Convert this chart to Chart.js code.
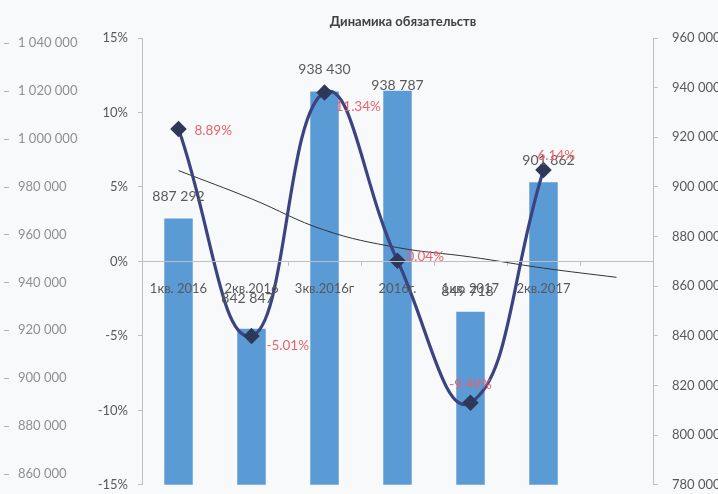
<!DOCTYPE html>
<html><head><meta charset="utf-8">
<script src="https://cdn.jsdelivr.net/npm/chart.js@4/dist/chart.umd.min.js"></script>
<style>html,body{margin:0;padding:0;background:#f8f9fb;overflow:hidden}</style>
</head><body>
<canvas id="c" width="718" height="494"></canvas>
<script>
const categories = ['1кв. 2016', '2кв.2016', '3кв.2016г', '2016г.', '1кв. 2017', '2кв.2017', ''];
const liabilities = [887292, 842847, 938430, 938787, 849718, 901862, null];
const changePct = [8.89, -5.01, 11.34, 0.04, -9.49, 6.14, null];
const trendPct = [6.1, 4.2, 2.1, 0.93, 0.3, -0.45, -1.07];
const pctTicks = [-15, -10, -5, 0, 5, 10, 15];
const rightTicks = [780000, 800000, 820000, 840000, 860000, 880000, 900000, 920000, 940000, 960000];
const outerTicks = [860000, 880000, 900000, 920000, 940000, 960000, 980000, 1000000, 1020000, 1040000];
const chartTitle = 'Динамика обязательств';

const FONT = 'Lato, "Liberation Sans", sans-serif';
const fmt = v => String(v).replace(/\B(?=(\d{3})+(?!\d))/g, ' ');
const pctFmt = v => v.toFixed(2) + '%';

const labelPlugin = {
  id: 'labels',
  afterDatasetsDraw(chart) {
    const ctx = chart.ctx;
    ctx.save();
    const barOff = [[0, -22], [-4, -30], [0, -22], [0, -5], [-3, -20], [5, -22]];
    ctx.font = '14px ' + FONT;
    ctx.fillStyle = '#595959';
    ctx.textAlign = 'center';
    ctx.textBaseline = 'middle';
    chart.getDatasetMeta(0).data.forEach((el, i) => {
      if (liabilities[i] == null) return;
      ctx.fillText(fmt(liabilities[i]), el.x + barOff[i][0], el.y + barOff[i][1]);
    });
    const pOff = [[16, 2, 'left'], [15, 10, 'left'], [11, 14, 'left'], [9, -4, 'left'], [0, -18, 'center'], [-6, -14, 'left']];
    ctx.font = '13.5px ' + FONT;
    ctx.fillStyle = '#e8626c';
    chart.getDatasetMeta(1).data.forEach((el, i) => {
      if (changePct[i] == null) return;
      ctx.textAlign = pOff[i][2];
      ctx.fillText(pctFmt(changePct[i]), el.x + pOff[i][0], el.y + pOff[i][1]);
    });
    ctx.restore();
  },
  afterDraw(chart) {
    const ctx = chart.ctx;
    ctx.save();
    ctx.font = 'bold 13px ' + FONT;
    ctx.fillStyle = '#404040';
    ctx.textAlign = 'center';
    ctx.textBaseline = 'middle';
    ctx.fillText(chartTitle, 403, 22);
    const s = chart.scales.yOuter;
    ctx.strokeStyle = '#b0b0b0';
    ctx.lineWidth = 1;
    s.ticks.forEach(t => {
      const y = Math.round(s.getPixelForValue(t.value)) + 0.5;
      ctx.beginPath(); ctx.moveTo(4, y); ctx.lineTo(9, y); ctx.stroke();
    });
    ctx.restore();
  }
};

const tickFont = { family: FONT, size: 13 };

new Chart(document.getElementById('c'), {
  data: {
    labels: categories,
    datasets: [
      { type: 'bar', data: liabilities, yAxisID: 'y1', xAxisID: 'x', backgroundColor: '#5b9bd5',
        categoryPercentage: 1, barPercentage: 0.39, order: 3 },
      { type: 'line', data: changePct, yAxisID: 'pct', xAxisID: 'x', borderColor: '#3b4480', borderWidth: 3.2,
        tension: 0.45, pointStyle: 'rectRot', pointRadius: 6, pointBackgroundColor: '#2f3858',
        pointBorderColor: '#2f3858', order: 1, clip: false },
      { type: 'line', data: trendPct, yAxisID: 'pct', xAxisID: 'x', borderColor: '#333333', borderWidth: 1,
        tension: 0.4, pointRadius: 0, order: 2 }
    ]
  },
  options: {
    responsive: false,
    animation: false,
    layout: { padding: { left: 18, top: 38, right: 0, bottom: 5 } },
    plugins: { legend: { display: false }, tooltip: { enabled: false }, title: { display: false } },
    scales: {
      x: {
        type: 'category', position: { pct: 0 }, offset: true,
        grid: { display: true, drawOnChartArea: false, offset: true, tickLength: 4, color: '#bfbfbf' },
        border: { color: '#bfbfbf', z: 1 },
        ticks: { color: '#595959', font: tickFont, maxRotation: 0, autoSkip: false, padding: 16, z: 1 }
      },
      pct: {
        axis: 'y', position: 'left', weight: 0, min: -15, max: 15,
        afterBuildTicks: s => { s.ticks = pctTicks.map(v => ({ value: v })); },
        ticks: { callback: v => v + '%', color: '#595959', font: tickFont, padding: 10 },
        grid: { drawOnChartArea: false, tickLength: 4, color: '#bfbfbf' },
        border: { color: '#bfbfbf' },
        afterFit: s => { s.width = 52; s.paddingTop = 0; s.paddingBottom = 0; }
      },
      yOuter: {
        axis: 'y', position: 'left', weight: 1, min: 855450, max: 1042070,
        afterBuildTicks: s => { s.ticks = outerTicks.map(v => ({ value: v })); },
        ticks: { callback: v => fmt(v), color: '#8f8f8f', font: tickFont, crossAlign: 'far', padding: 0 },
        grid: { display: false }, border: { display: false },
        afterFit: s => { s.width = 72; s.paddingTop = 0; s.paddingBottom = 0; }
      },
      y1: {
        axis: 'y', position: 'right', min: 780000, max: 960000,
        afterBuildTicks: s => { s.ticks = rightTicks.map(v => ({ value: v })); },
        ticks: { callback: v => fmt(v), color: '#595959', font: tickFont, padding: 14 },
        grid: { drawOnChartArea: false, tickLength: 5, color: '#bfbfbf' },
        border: { color: '#bfbfbf' },
        afterFit: s => { s.width = 65; s.paddingTop = 0; s.paddingBottom = 0; }
      }
    }
  },
  plugins: [labelPlugin]
});
</script>
</body></html>
